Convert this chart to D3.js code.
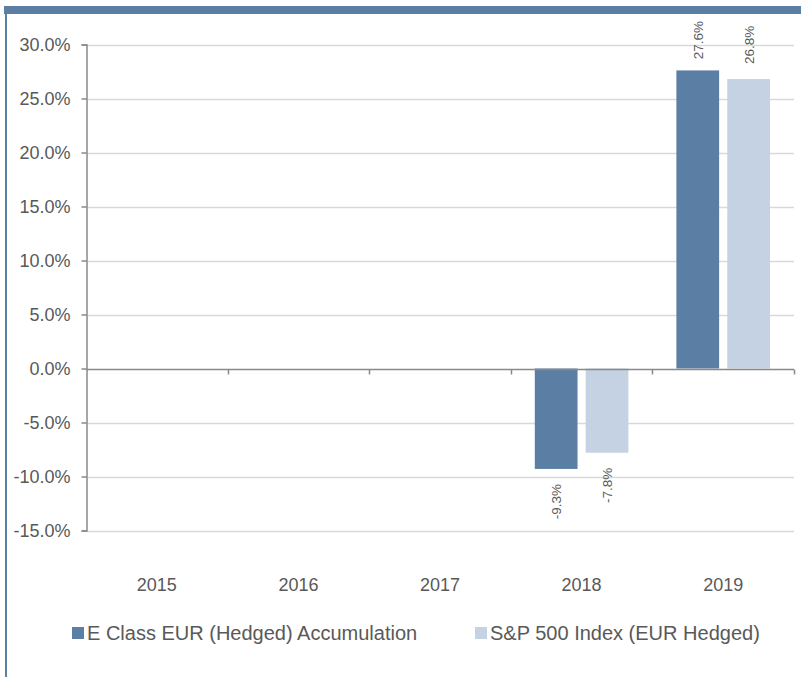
<!DOCTYPE html>
<html>
<head>
<meta charset="utf-8">
<script src="https://cdn.jsdelivr.net/npm/d3@7"></script>
<style>
  html, body { margin: 0; padding: 0; background: #fff; }
  svg { display: block; font-family: Arial, "Liberation Sans", sans-serif; }
</style>
</head>
<body>
<div id="chart"></div>
<script>
const years = ['2015', '2016', '2017', '2018', '2019']
const seriesNames = ['E Class EUR (Hedged) Accumulation', 'S&P 500 Index (EUR Hedged)']
const fundValues = [null, null, null, -9.3, 27.6]
const indexValues = [null, null, null, -7.8, 26.8]
const yTicks = [-15, -10, -5, 0, 5, 10, 15, 20, 25, 30]
const colors = ['#5b7fa4', '#c5d2e3']

const width = 801, height = 677
const svg = d3.select('#chart').append('svg')
    .attr('width', width)
    .attr('height', height)

// frame: top band + left border
svg.append('rect').attr('x', 4).attr('y', 6).attr('width', width - 4).attr('height', 8).attr('fill', '#5b7fa3')
svg.append('rect').attr('x', 5).attr('y', 14).attr('width', 2).attr('height', height - 14).attr('fill', '#5b7fa3')

const plot = { left: 86, right: 794 }

const y = d3.scaleLinear()
    .domain([-15, 30])
    .range([530.5, 44.5])

const x = d3.scaleBand()
    .domain(years)
    .range([plot.left, plot.right])

const x1 = d3.scaleBand()
    .domain([0, 1])
    .range([24, x.bandwidth() - 24])
    .paddingInner(0.16)

// gridlines
svg.append('g')
    .selectAll('line')
    .data(yTicks.filter(d => d !== 0))
    .enter()
    .append('line')
        .attr('x1', plot.left)
        .attr('x2', plot.right)
        .attr('y1', d => Math.round(y(d)) + 0.5)
        .attr('y2', d => Math.round(y(d)) + 0.5)
        .attr('stroke', '#d9d9d9')
        .attr('stroke-width', 1.5)

// bars
const data = years.map((yr, i) => ({ year: yr, values: [fundValues[i], indexValues[i]] }))

const groups = svg.append('g').selectAll('g')
    .data(data)
    .enter()
    .append('g')
        .attr('transform', d => `translate(${x(d.year)},0)`)

groups.selectAll('rect')
    .data(d => d.values.map((v, s) => ({ v, s })).filter(e => e.v !== null))
    .enter()
    .append('rect')
        .attr('x', d => x1(d.s))
        .attr('width', x1.bandwidth())
        .attr('y', d => y(Math.max(0, d.v)))
        .attr('height', d => Math.abs(y(d.v) - y(0)))
        .attr('fill', d => colors[d.s])

// data labels (rotated)
groups.selectAll('text')
    .data(d => d.values.map((v, s) => ({ v, s })).filter(e => e.v !== null))
    .enter()
    .append('text')
        .text(d => d.v.toFixed(1) + '%')
        .attr('font-size', '13.5px')
        .attr('fill', '#595959')
        .attr('text-anchor', d => d.v >= 0 ? 'start' : 'end')
        .each(function (d) {
            const len = this.getComputedTextLength()
            let ly
            if (d.v >= 0) {
                ly = y(d.v) - 15
                if (ly - len < 21) ly = 21 + len
            } else {
                ly = y(d.v) + 15
            }
            const lx = x1(d.s) + x1.bandwidth() / 2 + 5
            d3.select(this).attr('transform', `translate(${lx},${ly}) rotate(-90)`)
        })

// y axis
const yAxis = d3.axisLeft(y)
    .tickValues(yTicks)
    .tickSize(5)
    .tickPadding(11)
    .tickFormat(d => d.toFixed(1) + '%')

const yG = svg.append('g')
    .attr('transform', `translate(${plot.left + 0.5},0)`)
    .call(yAxis)
yG.select('.domain').attr('stroke', '#898989').attr('stroke-width', 1.5)
yG.selectAll('.tick line').attr('stroke', '#898989').attr('stroke-width', 1.5)
yG.selectAll('.tick text')
    .attr('font-size', '18px')
    .attr('fill', '#595959')
    .attr('font-family', 'Arial, "Liberation Sans", sans-serif')

// x axis at zero
const zeroY = Math.round(y(0)) + 0.5
svg.append('line')
    .attr('x1', plot.left)
    .attr('x2', plot.right)
    .attr('y1', zeroY)
    .attr('y2', zeroY)
    .attr('stroke', '#898989')
    .attr('stroke-width', 1.5)

svg.append('g').selectAll('line')
    .data(years.map(d => x(d)).slice(1).concat([plot.right]))
    .enter()
    .append('line')
        .attr('x1', d => Math.round(d) + 0.5)
        .attr('x2', d => Math.round(d) + 0.5)
        .attr('y1', zeroY)
        .attr('y2', zeroY + 5)
        .attr('stroke', '#898989')
        .attr('stroke-width', 1.5)

// category labels
svg.append('g').selectAll('text')
    .data(years)
    .enter()
    .append('text')
        .text(d => d)
        .attr('x', d => x(d) + x.bandwidth() / 2)
        .attr('y', 591)
        .attr('text-anchor', 'middle')
        .attr('font-size', '18px')
        .attr('fill', '#595959')

// legend
const legendX = [72, 475]
const legend = svg.append('g').selectAll('g')
    .data(seriesNames)
    .enter()
    .append('g')
        .attr('transform', (d, i) => `translate(${legendX[i]},0)`)

legend.append('rect')
    .attr('x', 0)
    .attr('y', 627)
    .attr('width', 12)
    .attr('height', 12)
    .attr('fill', (d, i) => colors[i])

legend.append('text')
    .text(d => d)
    .attr('x', 15)
    .attr('y', 640)
    .attr('font-size', '20px')
    .attr('fill', '#595959')
</script>
</body>
</html>
